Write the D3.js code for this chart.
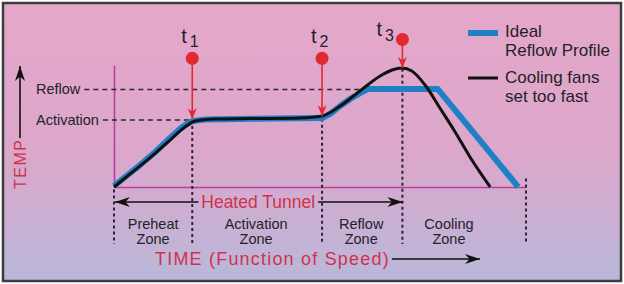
<!DOCTYPE html>
<html>
<head>
<meta charset="utf-8">
<script src="https://cdn.jsdelivr.net/npm/d3@7"></script>
<style>
  body { margin: 0; background: #fff; }
  svg { display: block; font-family: "Liberation Sans", Arial, sans-serif; }
</style>
</head>
<body>
<svg id="chart" width="624" height="284"></svg>
<script>
// time runs 0..100 across the tunnel, temperature 0..100 (relative)
const zoneEdges = [0, 19, 50.5, 70, 100];
const zoneLineTop = [-2, 55, 56, 97, 7];
const zoneNames = [["Preheat", "Zone"], ["Activation", "Zone"], ["Reflow", "Zone"], ["Cooling", "Zone"]];
const zoneLabelAt = [9.5, 34.5, 60, 81.3];

const levelNames = ["Activation", "Reflow"];
const levelTemps = [55, 80];
const levelEnds = [19, 61.7];

const idealTime = [0, 2.7, 6.3, 10, 13.6, 16, 17.7, 19.2, 22.1, 50.5, 52.4, 54.9, 57.3, 59.7, 61.7, 78.6, 98.1];
const idealTemp = [0.8, 8.2, 18, 28.7, 40.2, 47.5, 51.6, 54.1, 55.3, 56.6, 59.8, 66.4, 72.1, 77, 80.3, 80.3, 0];

const fastTime = [0, 3.9, 8.7, 13.6, 17.2, 19.7, 24.5, 33, 45.1, 50.5, 54.9, 59.7, 64.6, 67.5, 69.9, 72.3, 75.5, 79.1, 82.8, 86.4, 91.3];
const fastTemp = [0, 10.7, 23.8, 38.5, 49.2, 54.1, 55.7, 56.1, 56.6, 58.2, 66.4, 78.7, 91, 95.9, 97.5, 95.1, 83.6, 64.8, 45.1, 24.6, 0];

const markerNames = ["1", "2", "3"];
const markerTimes = [19, 50.5, 70];
const markerFrom = [105.5, 105.5, 121];
const markerTo = [55.5, 58, 97.5];

const legendNames = [["Ideal", "Reflow Profile"], ["Cooling fans", "set too fast"]];

const svg = d3.select("#chart");
const W = 624, H = 284;

const x = d3.scaleLinear().domain([0, 100]).range([114, 526]);
const y = d3.scaleLinear().domain([0, 100]).range([187, 65]);

const blue = "#1f80c6", red = "#e02a30", redText = "#d0324c", magenta = "#b8409a", ink = "#231f2a";

// background
const defs = svg.append("defs");
const grad = defs.append("linearGradient").attr("id", "bg").attr("x1", 0).attr("y1", 0).attr("x2", 0).attr("y2", 1);
grad.append("stop").attr("offset", "0%").attr("stop-color", "#e5a7c9");
grad.append("stop").attr("offset", "55%").attr("stop-color", "#dba7cb");
grad.append("stop").attr("offset", "100%").attr("stop-color", "#b9b8da");

function arrowMarker(id, color, len, wid) {
  defs.append("marker")
    .attr("id", id)
    .attr("viewBox", `0 ${-wid / 2} ${len} ${wid}`)
    .attr("refX", len).attr("refY", 0)
    .attr("markerWidth", len).attr("markerHeight", wid)
    .attr("markerUnits", "userSpaceOnUse")
    .attr("orient", "auto-start-reverse")
    .append("path")
    .attr("d", `M0,${-wid / 2}L${len},0L0,${wid / 2}L${len * 0.3},0Z`)
    .attr("fill", color);
}
arrowMarker("arrBlack", "#111", 15, 10);
arrowMarker("arrRed", red, 11, 9);

svg.append("rect")
  .attr("x", 3).attr("y", 3).attr("width", W - 6).attr("height", H - 6)
  .attr("fill", "url(#bg)")
  .attr("stroke", "#3c3c3c").attr("stroke-width", 2.5);

// axes (no ticks, only the domain line)
svg.append("g")
  .attr("transform", `translate(0,${y(0)})`)
  .call(d3.axisBottom(x).tickValues([]).tickSizeOuter(0));
svg.append("g")
  .attr("transform", `translate(${x(0)},0)`)
  .call(d3.axisLeft(y).tickValues([]).tickSizeOuter(0));
svg.selectAll(".domain").attr("stroke", magenta).attr("stroke-width", 1.6);

// level labels + dashed guides
levelNames.forEach((name, i) => {
  const t = svg.append("text")
    .attr("x", 36).attr("y", y(levelTemps[i]) + 5)
    .attr("font-size", 14.5).attr("fill", ink)
    .text(name);
  const end = 36 + t.node().getComputedTextLength();
  svg.append("line")
    .attr("x1", end + 4).attr("x2", x(levelEnds[i]))
    .attr("y1", y(levelTemps[i])).attr("y2", y(levelTemps[i]))
    .attr("stroke", "#2a2633").attr("stroke-width", 1.5)
    .attr("stroke-dasharray", "5,4");
});

// zone dividers
zoneEdges.forEach((t, i) => {
  svg.append("line")
    .attr("x1", x(t)).attr("x2", x(t))
    .attr("y1", y(zoneLineTop[i])).attr("y2", 244)
    .attr("stroke", "#2a2633").attr("stroke-width", 2)
    .attr("stroke-dasharray", "3,3");
});

// curves
const line = d3.line().x(d => x(d[0])).y(d => y(d[1]));
svg.append("path")
  .datum(d3.zip(idealTime, idealTemp))
  .attr("d", line.curve(d3.curveLinear))
  .attr("fill", "none").attr("stroke", blue).attr("stroke-width", 6)
  .attr("stroke-linejoin", "round");
svg.append("path")
  .datum(d3.zip(fastTime, fastTemp))
  .attr("d", line.curve(d3.curveMonotoneX))
  .attr("fill", "none").attr("stroke", "#111").attr("stroke-width", 3);

// t markers
markerTimes.forEach((t, i) => {
  const cx = x(t), cy = y(markerFrom[i]);
  svg.append("line")
    .attr("x1", cx).attr("x2", cx).attr("y1", cy).attr("y2", y(markerTo[i]))
    .attr("stroke", red).attr("stroke-width", 1.6)
    .attr("marker-end", "url(#arrRed)");
  svg.append("circle").attr("cx", cx).attr("cy", cy).attr("r", 6.5).attr("fill", red);
  const side = i === 2;
  const lbl = svg.append("text")
    .attr("x", side ? cx - 26 : cx - 11)
    .attr("y", side ? cy - 3 : cy - 15)
    .attr("font-size", 20).attr("fill", ink);
  lbl.append("tspan").text("t");
  lbl.append("tspan").attr("dx", 3).attr("dy", side ? 5 : 4).attr("font-size", 16).text(markerNames[i]);
});

// zone labels
zoneNames.forEach((lines, i) => {
  lines.forEach((s, j) => {
    svg.append("text")
      .attr("x", x(zoneLabelAt[i])).attr("y", 229 + j * 15)
      .attr("text-anchor", "middle").attr("font-size", 14.5).attr("fill", ink)
      .text(s);
  });
});

// heated tunnel arrow
const tunnelY = 202;
const tunnel = svg.append("text")
  .attr("x", (x(zoneEdges[0]) + x(zoneEdges[3])) / 2).attr("y", tunnelY + 6)
  .attr("text-anchor", "middle").attr("font-size", 17.5).attr("fill", redText)
  .text("Heated Tunnel");
const tb = tunnel.node().getBBox();
svg.append("line")
  .attr("x1", tb.x - 3).attr("x2", x(zoneEdges[0]) + 1)
  .attr("y1", tunnelY).attr("y2", tunnelY)
  .attr("stroke", "#111").attr("stroke-width", 1.6).attr("marker-end", "url(#arrBlack)");
svg.append("line")
  .attr("x1", tb.x + tb.width + 3).attr("x2", x(zoneEdges[3]))
  .attr("y1", tunnelY).attr("y2", tunnelY)
  .attr("stroke", "#111").attr("stroke-width", 1.6).attr("marker-end", "url(#arrBlack)");

// axis titles
const timeT = svg.append("text")
  .attr("x", 155).attr("y", 265)
  .attr("font-size", 18).attr("letter-spacing", 1.2).attr("fill", redText)
  .text("TIME (Function of Speed)");
const tt = timeT.node().getBBox();
svg.append("line")
  .attr("x1", tt.x + tt.width + 2).attr("x2", 480)
  .attr("y1", 259).attr("y2", 259)
  .attr("stroke", "#111").attr("stroke-width", 1.6).attr("marker-end", "url(#arrBlack)");

svg.append("text")
  .attr("transform", "translate(26,189) rotate(-90)")
  .attr("font-size", 16).attr("letter-spacing", 1.5).attr("fill", redText)
  .text("TEMP");
svg.append("line")
  .attr("x1", 20).attr("x2", 20).attr("y1", 138).attr("y2", 66)
  .attr("stroke", "#111").attr("stroke-width", 1.6).attr("marker-end", "url(#arrBlack)");

// legend
const legend = svg.append("g");
[[blue, 6, 33], ["#111", 3, 78]].forEach((s, i) => {
  legend.append("line")
    .attr("x1", 468).attr("x2", 498).attr("y1", s[2]).attr("y2", s[2])
    .attr("stroke", s[0]).attr("stroke-width", s[1]);
  legendNames[i].forEach((s2, j) => {
    legend.append("text")
      .attr("x", 505).attr("y", (i ? 83 : 37) + j * 19)
      .attr("font-size", 17).attr("fill", ink)
      .text(s2);
  });
});
</script>
</body>
</html>
